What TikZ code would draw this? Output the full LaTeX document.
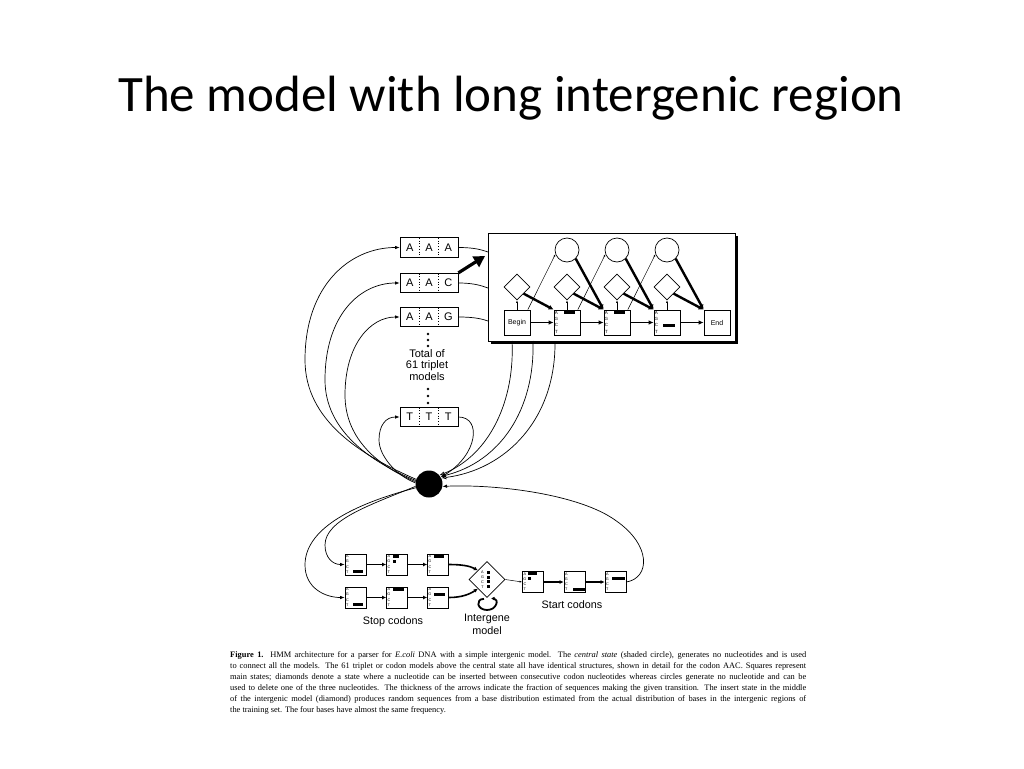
\documentclass[tikz,border=0pt]{standalone}
\usepackage{fontspec}
\setmainfont{Liberation Serif}
\setsansfont{Liberation Sans}
\newfontfamily\titlefont{Carlito}
\usetikzlibrary{arrows.meta,shapes.geometric,calc}
\newcommand\tripbox[5]{%
  \node[tri] (#1) at (429,#2) {};
  \draw[dotted, line width=0.7pt] (419.3,{#2-9.5}) -- (419.3,{#2+9.5});
  \draw[dotted, line width=0.7pt] (438.7,{#2-9.5}) -- (438.7,{#2+9.5});
  \node[trl] (#1-a) at (409.7,#2) {#3};
  \node[trl] (#1-b) at (429,#2) {#4};
  \node[trl] (#1-c) at (448.3,#2) {#5};
}
\newcommand\letcol[3]{%
  \foreach \lt [count=\i] in {A,G,C,T}
    \node[#3] (#1-l\i) at ($(#1.north west)+(2.8,{(\i-0.5)*#2})$) {\lt};
}
\newcommand\pbar[5]{%
  \fill ($(#1.north west)+(#4,{(#2-0.5)*#3-1.5})$) rectangle ++(#5,3);
}
\begin{document}
\begin{tikzpicture}[x=1pt,y=-1pt,
  tri/.style={draw, line width=0.8pt, minimum width=58pt, minimum height=19.5pt, inner sep=0pt},
  trl/.style={font=\sffamily\fontsize{11}{12}\selectfont, inner sep=0pt},
  lab/.style={font=\sffamily\fontsize{10.8}{12.5}\selectfont, align=center, inner sep=0pt},
  arr/.style={line width=0.7pt, -{Latex[length=4.5pt,width=3.5pt]}},
  oarr/.style={line width=0.7pt, -{Latex[open,length=5pt,width=4pt]}},
  bsq/.style={draw, line width=0.8pt, minimum width=26pt, minimum height=25pt, inner sep=0pt, fill=white},
  ssq/.style={draw, line width=0.8pt, minimum size=21pt, inner sep=0pt},
  ltb/.style={font=\sffamily\fontsize{4.5}{5}\selectfont, inner sep=0pt},
  lts/.style={font=\sffamily\fontsize{3.8}{4}\selectfont, inner sep=0pt},
  dia/.style={draw, diamond, line width=0.7pt, minimum width=26pt, minimum height=26pt, inner sep=0pt},
  cir/.style={draw, circle, line width=0.7pt, minimum size=24pt, inner sep=0pt},
  hthick/.style={line width=1.8pt, -{Latex[length=5pt,width=4.5pt]}},
  dthick/.style={line width=2.4pt, -{Latex[length=5pt,width=5pt]}},
  thinar/.style={line width=0.5pt, -{Latex[length=2.5pt,width=2pt]}},
  sthick/.style={line width=1.6pt, -{Latex[length=4pt,width=4pt]}},
]
\useasboundingbox[fill=white] (0,0) rectangle (1024,768);

% title
\node[anchor=base, font=\titlefont\fontsize{51}{60}\selectfont, inner sep=0] (title) at (511,111) {The model with long intergenic region};

% triplet models
\tripbox{aaa}{247.5}{A}{A}{A}
\tripbox{aac}{283}{A}{A}{C}
\tripbox{aag}{317}{A}{A}{G}
\tripbox{ttt}{417}{T}{T}{T}
\foreach \y in {334,340,346,389,396,403} \fill (428,\y) circle (1.4);
\node[lab, font=\sffamily\fontsize{11}{11.8}\selectfont] (total) at (427,365) {Total of\\61 triplet\\models};

% central state
\node[circle, fill=black, minimum size=27pt, inner sep=0] (cs) at (429,484) {};

% detail box
\fill (490.5,235.5) rectangle (738,344);
\node[draw, fill=white, line width=0.8pt, minimum width=247pt, minimum height=108pt, inner sep=0] (detail) at (611.5,287) {};
\foreach \n/\x in {c1/567,c2/617,c3/667} \node[cir] (\n) at (\x,250) {};
\foreach \n/\x in {d0/517,d1/567,d2/617,d3/667} \node[dia] (\n) at (\x,287) {};
\node[bsq, font=\sffamily\fontsize{7}{8}\selectfont] (b) at (517,322.5) {Begin};
\node[bsq] (m1) at (567,322.5) {};
\node[bsq] (m2) at (617,322.5) {};
\node[bsq] (m3) at (667,322.5) {};
\node[bsq, font=\sffamily\fontsize{7}{8}\selectfont] (e) at (717,322.5) {End};
\letcol{m1}{6.25}{ltb}
\letcol{m2}{6.25}{ltb}
\letcol{m3}{6.25}{ltb}
\pbar{m1}{1}{6.25}{10}{11}
\pbar{m2}{1}{6.25}{10}{11}
\pbar{m3}{3}{6.25}{9}{12}
\draw[hthick] (b) -- (m1);
\draw[hthick] (m1) -- (m2);
\draw[hthick] (m2) -- (m3);
\draw[hthick] (m3) -- (e);
\draw[dthick] (d0.south east) -- (m1.north west);
\draw[dthick] (d1.south east) -- (m2.north west);
\draw[dthick] (d2.south east) -- (m3.north west);
\draw[dthick] (d3.south east) -- (e.north west);
\draw[dthick] (c1.south east) -- (m2.north west);
\draw[dthick] (c2.south east) -- (m3.north west);
\draw[dthick] (c3.south east) -- (e.north west);
\draw[thinar] (b.north) -- (d0.south);
\draw[thinar] (m1.north) -- (d1.south);
\draw[thinar] (m2.north) -- (d2.south);
\draw[thinar] (m3.north) -- (d3.south);
\draw[thinar] (b.50) -- (c1.200);
\draw[thinar] (m1.50) -- (c2.200);
\draw[thinar] (m2.50) -- (c3.200);

% triplets into detail box
\coordinate (i1) at (488,252);
\coordinate (i2) at (488,288);
\coordinate (i3) at (488,321);
\draw[line width=0.7pt] (aaa.east) .. controls (475,247.5) and (482,250) .. (i1);
\draw[line width=0.7pt] (aac.east) .. controls (475,283) and (482,286) .. (i2);
\draw[line width=0.7pt] (aag.east) .. controls (475,317) and (482,319) .. (i3);
\coordinate (bigtip) at (485,256);
\draw[line width=3.2pt, -{Triangle[length=11pt,width=12pt]}] (aac.north east) -- (bigtip);

% central state to triplets
\draw[arr] (cs.160) .. controls (360,455) and (305,420) .. (305,360) .. controls (305,285) and (350,247.5) .. (aaa.west);
\draw[arr] (cs.165) .. controls (370,462) and (325,430) .. (325,380) .. controls (325,315) and (360,283) .. (aac.west);
\draw[arr] (cs.170) .. controls (380,467) and (345,440) .. (345,395) .. controls (345,345) and (370,317) .. (aag.west);
\draw[arr] (cs.175) .. controls (395,475) and (379,455) .. (379,440) .. controls (379,425) and (386,417) .. (ttt.west);

% back to central state
\draw[arr] (ttt.east) .. controls (482,417) and (478,455) .. (cs.30);
\coordinate (o1) at (512,341);
\coordinate (o2) at (533,341);
\coordinate (o3) at (555,341);
\draw[oarr] (o1) .. controls (515,400) and (490,455) .. (cs.40);
\draw[oarr] (o2) .. controls (535,410) and (500,462) .. (cs.33);
\draw[oarr] (o3) .. controls (556,420) and (505,470) .. (cs.26);

% stop codons
\node[ssq] (s11) at (355.5,564.5) {};
\node[ssq] (s12) at (397,564.5) {};
\node[ssq] (s13) at (438,564.5) {};
\node[ssq] (s21) at (355.5,597.5) {};
\node[ssq] (s22) at (397,597.5) {};
\node[ssq] (s23) at (438,597.5) {};
\foreach \s in {s11,s12,s13,s21,s22,s23} {\letcol{\s}{5.25}{lts}}
\pbar{s11}{4}{5.25}{8}{10}
\pbar{s12}{1}{5.25}{7}{6}
\pbar{s12}{2}{5.25}{7}{2.5}
\pbar{s13}{1}{5.25}{7}{10}
\pbar{s21}{4}{5.25}{8}{10}
\pbar{s22}{1}{5.25}{7}{11}
\pbar{s23}{2}{5.25}{7}{11}
\draw[sthick] (s11) -- (s12);
\draw[sthick] (s12) -- (s13);
\draw[sthick] (s21) -- (s22);
\draw[sthick] (s22) -- (s23);
\draw[arr] (cs.190) .. controls (370,505) and (325,520) .. (325,545) .. controls (325,558) and (333,564.5) .. (s11.west);
\draw[arr] (cs.196) .. controls (350,505) and (305,530) .. (305,565) .. controls (305,588) and (325,597.5) .. (s21.west);

% intergene model
\node[draw, diamond, line width=0.7pt, minimum width=36pt, minimum height=36pt, inner sep=0] (ig) at (487,579.5) {};
\foreach \lt [count=\i] in {A,G,C,T} {
  \node[lts] (ig-l\i) at (482.5,{567.5+4.8*\i}) {\lt};
  \fill (486.5,{566+4.8*\i}) rectangle ++(3.5,3);
}
\draw[sthick] (s13.east) .. controls (462,564.5) and (470,566) .. (ig.north west);
\draw[sthick] (s23.east) .. controls (462,597.5) and (470,594) .. (ig.south west);
\draw[line width=1.8pt, -{Latex[length=3.5pt,width=4pt]}] ($(ig.south)+(-3,1)$) .. controls (475,599) and (477,610) .. (487,610) .. controls (497,610) and (499,599) .. ($(ig.south)+(4,0.5)$);

% start codons
\node[ssq] (st1) at (533,582) {};
\node[ssq] (st2) at (574.5,582) {};
\node[ssq] (st3) at (615.5,582) {};
\foreach \s in {st1,st2,st3} {\letcol{\s}{5.25}{lts}}
\pbar{st1}{1}{5.25}{6}{9}
\pbar{st1}{2}{5.25}{6}{3}
\pbar{st2}{4}{5.25}{9}{12}
\pbar{st3}{2}{5.25}{7}{13}
\draw[thinar] (ig.east) -- (st1.west);
\draw[sthick] (st1) -- (st2);
\draw[sthick] (st2) -- (st3);
\draw[arr] (st3.east) .. controls (650,578) and (652,545) .. (615,520) .. controls (580,495) and (500,484) .. (cs.-10);

% labels
\node[lab] (stoplab) at (393,622) {Stop codons};
\node[lab] (startlab) at (572,605) {Start codons};
\node[lab] (iglab) at (487,624.5) {Intergene\\model};

% caption
\node[anchor=north west, inner sep=0, font=\fontsize{8.4}{11}\selectfont, align=left] (caption) at (230,651) {%
\makebox[576pt][s]{\textbf{Figure 1.} HMM architecture for a parser for \textit{E.coli} DNA with a simple intergenic model. The \textit{central state} (shaded circle), generates no nucleotides and is used}\\
\makebox[576pt][s]{to connect all the models. The 61 triplet or codon models above the central state all have identical structures, shown in detail for the codon AAC. Squares represent}\\
\makebox[576pt][s]{main states; diamonds denote a state where a nucleotide can be inserted between consecutive codon nucleotides whereas circles generate no nucleotide and can be}\\
\makebox[576pt][s]{used to delete one of the three nucleotides. The thickness of the arrows indicate the fraction of sequences making the given transition. The insert state in the middle}\\
\makebox[576pt][s]{of the intergenic model (diamond) produces random sequences from a base distribution estimated from the actual distribution of bases in the intergenic regions of}\\
\makebox[576pt][l]{the training set. The four bases have almost the same frequency.}};
\end{tikzpicture}
\end{document}
